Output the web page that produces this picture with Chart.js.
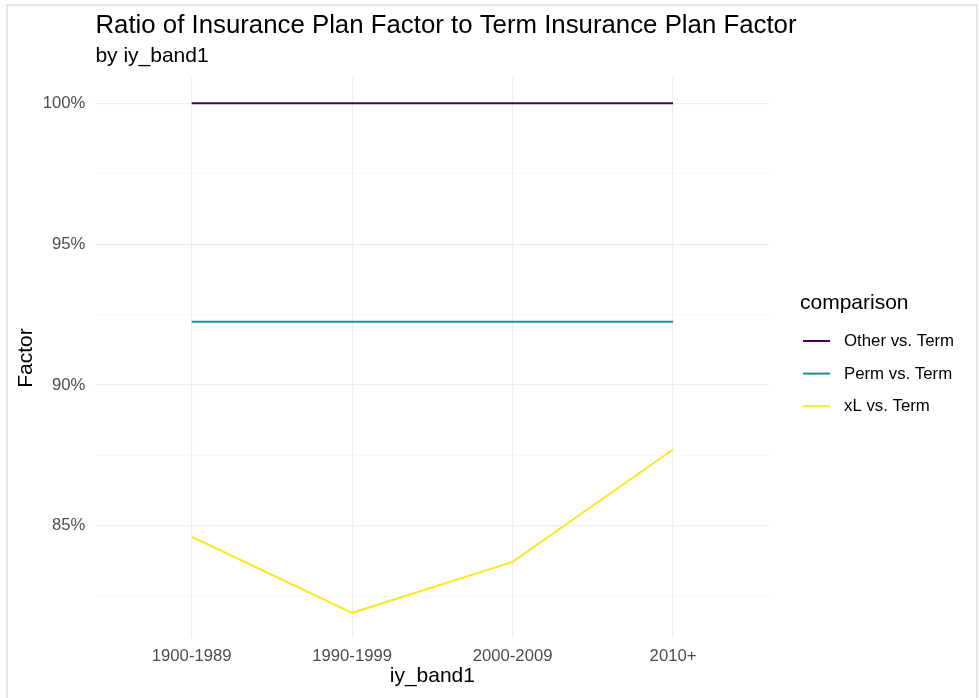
<!DOCTYPE html>
<html>
<head>
<meta charset="utf-8">
<script src="https://cdn.jsdelivr.net/npm/chart.js@4.4.1/dist/chart.umd.min.js"></script>
<style>
  html, body { margin: 0; padding: 0; background: #ffffff; }
  #wrap { position: relative; width: 979px; height: 698px; overflow: hidden; }
  #frame { position: absolute; left: 6px; top: 4px; width: 968px; height: 710px;
           border: 2px solid #E5E5E5; pointer-events: none; }
  canvas { position: absolute; left: 0; top: 0; }
</style>
</head>
<body>
<div id="wrap">
  <canvas id="c" width="979" height="698"></canvas>
  <div id="frame"></div>
</div>
<script>
// ---- data ----
const chartTitle = "Ratio of Insurance Plan Factor to Term Insurance Plan Factor";
const chartSubtitle = "by iy_band1";
const xAxisTitle = "iy_band1";
const yAxisTitle = "Factor";
const legendTitle = "comparison";
const categories = ["1900-1989", "1990-1999", "2000-2009", "2010+"];
const seriesNames = ["Other vs. Term", "Perm vs. Term", "xL vs. Term"];
const otherVsTerm = [100, 100, 100, 100];
const permVsTerm = [92.24, 92.24, 92.24, 92.24];
const xlVsTerm = [84.61, 81.91, 83.72, 87.71];
const seriesColors = ["#440154", "#21908C", "#FDE725"];

const FONT = "'Liberation Sans', Arial, Helvetica, sans-serif";
const allSeries = [otherVsTerm, permVsTerm, xlVsTerm];
const allVals = allSeries.flat();
const dMin = Math.min(...allVals), dMax = Math.max(...allVals);
const pad = (dMax - dMin) * 0.05;

const datasets = allSeries.map((vals, k) => ({
  label: seriesNames[k],
  data: vals.map((v, i) => ({ x: i, y: v })),
  borderColor: seriesColors[k],
  backgroundColor: seriesColors[k],
  borderWidth: 2,
  pointRadius: 0,
  fill: false,
  tension: 0
}));

const majorGrid = '#EDEDED';
const minorGrid = '#F3F3F3';

const decor = {
  id: 'decor',
  afterDraw(chart) {
    const ctx = chart.ctx;
    const ca = chart.chartArea;
    ctx.save();
    ctx.fillStyle = '#000000';
    ctx.textAlign = 'left';
    ctx.textBaseline = 'alphabetic';
    ctx.font = `25.8px ${FONT}`;
    ctx.fillText(chartTitle, ca.left, 33);
    ctx.font = `21px ${FONT}`;
    ctx.fillText(chartSubtitle, ca.left, 61.5);
    // legend
    ctx.font = `21px ${FONT}`;
    ctx.fillText(legendTitle, 800, 309);
    ctx.font = `16.8px ${FONT}`;
    ctx.textBaseline = 'middle';
    chart.data.datasets.forEach((ds, i) => {
      const y = 341 + i * 32.6;
      ctx.strokeStyle = ds.borderColor;
      ctx.lineWidth = 2;
      ctx.beginPath();
      ctx.moveTo(803, y);
      ctx.lineTo(830, y);
      ctx.stroke();
      ctx.fillStyle = '#000000';
      ctx.fillText(ds.label, 844, y + 0.5);
    });
    ctx.restore();
  }
};

new Chart(document.getElementById('c'), {
  type: 'line',
  data: { datasets },
  options: {
    responsive: false,
    devicePixelRatio: 1,
    animation: false,
    layout: { padding: { top: 77.8, right: 209.7, left: 0, bottom: 0 } },
    plugins: {
      legend: { display: false },
      title: { display: false },
      tooltip: { enabled: false }
    },
    scales: {
      x: {
        type: 'linear',
        min: -0.6,
        max: categories.length - 1 + 0.6,
        afterFit: s => { s.height = 59.7; },
        afterBuildTicks: s => { s.ticks = s.ticks.filter(t => Number.isInteger(t.value) && t.value >= 0 && t.value < categories.length); },
        ticks: {
          stepSize: 1,
          includeBounds: false,
          autoSkip: false,
          maxRotation: 0,
          padding: 8,
          color: '#4D4D4D',
          font: { family: FONT, size: 16.7 },
          callback: v => categories[v] ?? ''
        },
        grid: { color: majorGrid, lineWidth: 1.2, drawTicks: false },
        border: { display: false },
        title: {
          display: true, text: xAxisTitle, color: '#000000',
          font: { family: FONT, size: 21 },
          padding: { top: 0, bottom: 9.4 }
        }
      },
      y: {
        type: 'linear',
        min: dMin - pad,
        max: dMax + pad,
        afterFit: s => { s.width = 95.4; },
        afterBuildTicks: s => { s.ticks = s.ticks.filter(t => Math.abs(t.value / 2.5 - Math.round(t.value / 2.5)) < 1e-6); },
        ticks: {
          stepSize: 2.5,
          includeBounds: false,
          padding: 10,
          color: '#4D4D4D',
          font: { family: FONT, size: 16.7 },
          callback: v => (Math.abs(v % 5) < 1e-6 ? Math.round(v) + '%' : '')
        },
        grid: {
          color: c => (c.tick && Math.abs(c.tick.value % 5) < 1e-6 ? majorGrid : minorGrid),
          lineWidth: c => (c.tick && Math.abs(c.tick.value % 5) < 1e-6 ? 1.2 : 0.7),
          drawTicks: false
        },
        border: { display: false },
        title: {
          display: true, text: yAxisTitle, color: '#000000',
          font: { family: FONT, size: 21 },
          padding: { top: 13.4, bottom: 0 }
        }
      }
    }
  },
  plugins: [decor]
});
</script>
</body>
</html>
